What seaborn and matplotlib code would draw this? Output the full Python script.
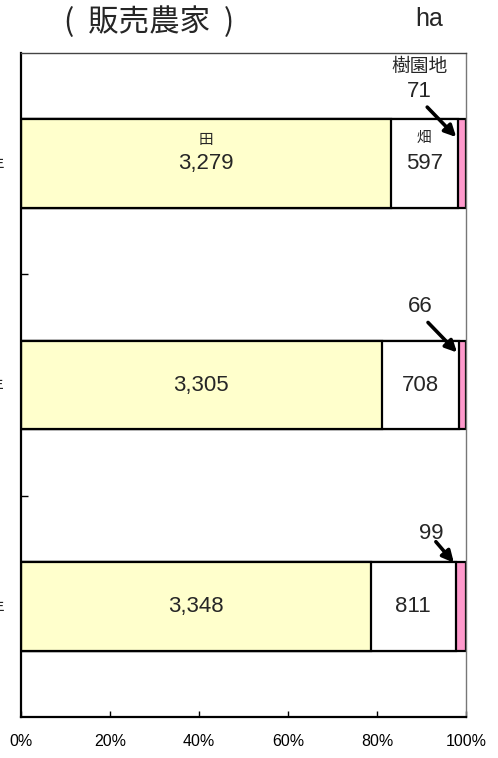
import numpy as np
import pandas as pd
import matplotlib
matplotlib.use("Agg")
import matplotlib.pyplot as plt
import seaborn as sns

# data (ha), top row first
years = ["平成22年", "平成17年", "平成12年"]
paddy = [3279, 3305, 3348]      # 田
upland = [597, 708, 811]        # 畑
orchard = [71, 66, 99]          # 樹園地

sns.set_style("white")
plt.rcParams["font.family"] = ["Liberation Sans", "Noto Sans CJK JP", "DejaVu Sans"]

df = pd.DataFrame({"year": years, "paddy": paddy, "upland": upland, "orchard": orchard})
df["total"] = df[["paddy", "upland", "orchard"]].sum(axis=1)
df["p_paddy"] = df["paddy"] / df["total"] * 100
df["p_cum2"] = (df["paddy"] + df["upland"]) / df["total"] * 100
df["p_all"] = 100.0

fig = plt.figure(figsize=(4.98, 7.58), dpi=100)
ax = fig.add_axes([21 / 498, 1 - 717 / 758, 445 / 498, 664 / 758])

bar_h = 0.4
kw = dict(data=df, y="year", orient="h", width=bar_h, edgecolor="black",
          linewidth=1.6, saturation=1, ax=ax)
# stacked look by overlaying cumulative bars
sns.barplot(x="p_all", color="#FF99CC", **kw)
sns.barplot(x="p_cum2", color="white", **kw)
sns.barplot(x="p_paddy", color="#FFFFCC", **kw)

ax.set_xlim(0, 100)
ax.set_ylim(len(years) - 0.5, -0.5)
ax.set_xlabel("")
ax.set_ylabel("")

# x axis
ax.set_xticks(np.arange(0, 101, 20))
ax.set_xticklabels([f"{v}%" for v in range(0, 101, 20)], fontsize=11.5)
ax.tick_params(axis="x", bottom=True, direction="in", length=4.5, width=1, pad=12,
               colors="black")
# y axis: labels at categories, ticks between them
ax.tick_params(axis="y", which="major", left=True, length=0, pad=12, labelsize=11.5)
ax.set_yticks(np.arange(0.5, len(years) - 1, 1), minor=True)
ax.tick_params(axis="y", which="minor", left=True, direction="in", length=5,
               width=1, color="black")

for side in ["left", "bottom"]:
    ax.spines[side].set_color("black")
    ax.spines[side].set_linewidth(1.6)
ax.spines["top"].set_color("#444444")
ax.spines["top"].set_linewidth(1)
ax.spines["right"].set_color("#777777")
ax.spines["right"].set_linewidth(1)

# segment value labels
for i, row in df.iterrows():
    x_p = row["p_paddy"] / 2
    x_u = (row["p_paddy"] + row["p_cum2"]) / 2
    ax.text(x_p, i, f"{row['paddy']:,}", ha="center", va="center", fontsize=16)
    ax.text(x_u, i, f"{row['upland']:,}", ha="center", va="center", fontsize=16)
    if i == 0:
        ax.annotate("田", (x_p, i), xytext=(0, 24), textcoords="offset pixels",
                    ha="center", va="center", fontsize=10.5)
        ax.annotate("畑", (x_u, i), xytext=(0, 26), textcoords="offset pixels",
                    ha="center", va="center", fontsize=10.5)

# orchard callouts: tip y-offset (data units), arrow tail and text offsets (px)
tip_dy = [-0.12, -0.147, -0.197]
tail_off = [(-29, 30), (-29, 30), (-18, 21)]
text_off = [(-37, 46), (-37, 46), (-23, 29)]
for i, row in df.iterrows():
    tip = (row["p_cum2"] - 0.4, i + tip_dy[i])
    ax.annotate("", xy=tip, xytext=tail_off[i], textcoords="offset pixels",
                arrowprops=dict(arrowstyle="-|>", color="black", lw=2.6,
                                mutation_scale=17, shrinkA=0, shrinkB=0))
    ax.annotate(f"{row['orchard']}", xy=tip, xytext=text_off[i], textcoords="offset pixels",
                ha="center", va="center", fontsize=16)
    if i == 0:
        ax.annotate("樹園地", xy=tip, xytext=(text_off[i][0], text_off[i][1] + 24),
                    textcoords="offset pixels", ha="center", va="center", fontsize=13.5)

fig.text(149 / 498, 1 - 22 / 758, "(  販売農家  )", ha="center", va="center",
         fontsize=22, family=["Noto Sans CJK JP", "DejaVu Sans"])
fig.text(429 / 498, 1 - 19 / 758, "ha", ha="center", va="center", fontsize=18)

fig.savefig("out.png", dpi=100)
